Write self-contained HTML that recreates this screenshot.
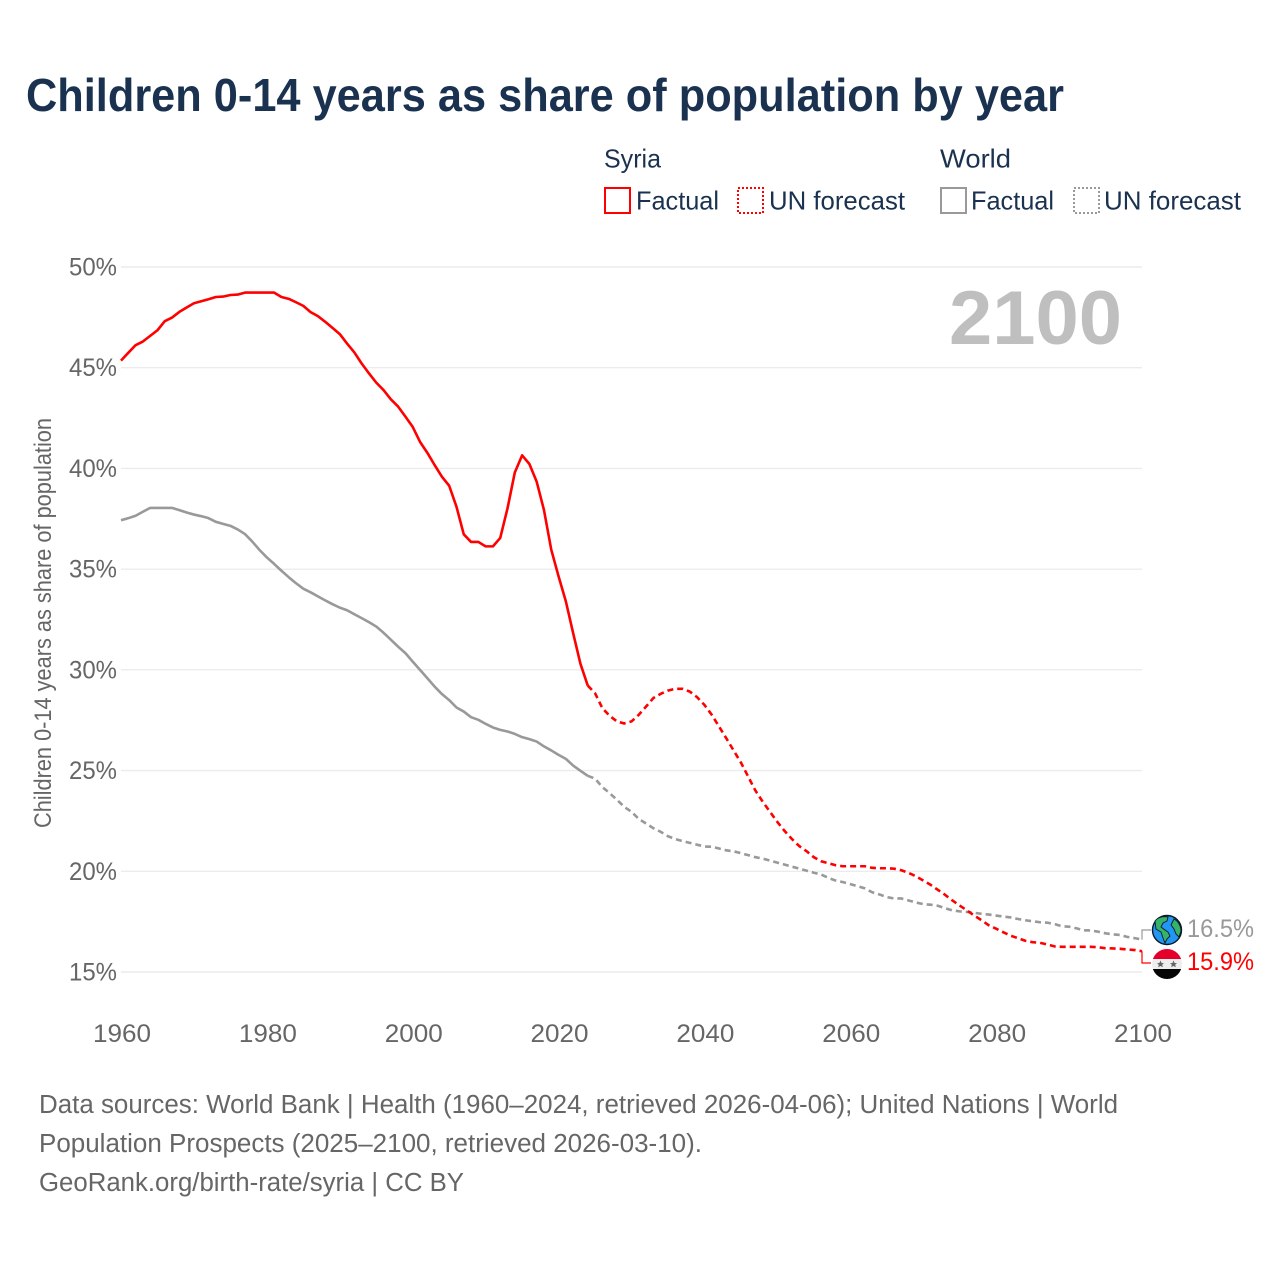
<!DOCTYPE html>
<html lang="en">
<head>
<meta charset="utf-8">
<title>Children 0-14 years as share of population by year</title>
<style>
html,body{margin:0;padding:0;background:#fff;}
svg{display:block;font-family:"Liberation Sans",sans-serif;}
</style>
</head>
<body>
<svg id="chart" xmlns="http://www.w3.org/2000/svg" width="1280" height="1280" viewBox="0 0 1280 1280">
  <rect x="0" y="0" width="1280" height="1280" fill="#fff"/>
  <text x="26" y="111" font-size="46" font-weight="700" fill="#1a3250" textLength="1038" lengthAdjust="spacingAndGlyphs">Children 0-14 years as share of population by year</text>

  <g font-size="26" fill="#1a3250">
    <text x="604" y="167.5" textLength="57" lengthAdjust="spacingAndGlyphs">Syria</text>
    <text x="940" y="167.5" textLength="71" lengthAdjust="spacingAndGlyphs">World</text>
    <g>
      <rect x="605" y="188" width="25" height="25" fill="none" stroke="#ff0000" stroke-width="2"/>
      <text x="636" y="209.5" textLength="83" lengthAdjust="spacingAndGlyphs">Factual</text>
    </g>
    <g>
      <rect x="738" y="188" width="25" height="25" fill="none" stroke="#ff0000" stroke-width="2" stroke-dasharray="2 2"/>
      <text x="769" y="209.5" textLength="136" lengthAdjust="spacingAndGlyphs">UN forecast</text>
    </g>
    <g>
      <rect x="941" y="188" width="25" height="25" fill="none" stroke="#999999" stroke-width="2"/>
      <text x="971" y="209.5" textLength="83" lengthAdjust="spacingAndGlyphs">Factual</text>
    </g>
    <g>
      <rect x="1074" y="188" width="25" height="25" fill="none" stroke="#999999" stroke-width="2" stroke-dasharray="2 2"/>
      <text x="1104" y="209.5" textLength="137" lengthAdjust="spacingAndGlyphs">UN forecast</text>
    </g>
  </g>

  <g id="grid"></g>
  <g id="yLabels"></g>
  <g id="xLabels"></g>

  <text transform="translate(51,623) rotate(-90)" text-anchor="middle" font-size="24" fill="#666666" textLength="410" lengthAdjust="spacingAndGlyphs">Children 0-14 years as share of population</text>
  <text x="949" y="344" font-size="76" font-weight="700" fill="#bfbfbf" textLength="173" lengthAdjust="spacingAndGlyphs">2100</text>

  <g id="series"></g>
  <g id="endLabels"></g>

  <g>
    <circle cx="1167" cy="930" r="14.5" fill="#2196f3" stroke="#0b1a24" stroke-width="1.4"/>
    <path d="M1155 921 C1158 917 1164 916 1168 917 L1167 921 L1163 923 L1161 927 L1165 930 L1168 932 L1170 936 L1167 939 L1165 943 L1163 938 L1161 932 L1156 929 Z" fill="#35b36b" stroke="#0b1a24" stroke-width="0.9"/>
    <path d="M1174 919 C1178 921 1181 926 1181 931 L1179 937 L1176 934 L1174 929 L1171 925 Z" fill="#35b36b" stroke="#0b1a24" stroke-width="0.9"/>
  </g>
  <g>
    <clipPath id="flagClip"><circle cx="1167" cy="964" r="15"/></clipPath>
    <g clip-path="url(#flagClip)">
      <rect x="1152" y="949" width="30" height="10" fill="#e4002b"/>
      <rect x="1152" y="959" width="30" height="10" fill="#eeeeee"/>
      <rect x="1152" y="969" width="30" height="10" fill="#050505"/>
    </g>
    <path d="M1160.5 960.5 L1161.6 963 L1164 963.2 L1162.2 964.8 L1162.8 967.2 L1160.5 966 L1158.2 967.2 L1158.8 964.8 L1157 963.2 L1159.4 963 Z" fill="#666666"/>
    <path d="M1173.5 960.5 L1174.6 963 L1177 963.2 L1175.2 964.8 L1175.8 967.2 L1173.5 966 L1171.2 967.2 L1171.8 964.8 L1170 963.2 L1172.4 963 Z" fill="#666666"/>
  </g>

  <g font-size="25.5" fill="#666666">
    <text x="39" y="1113" textLength="1079" lengthAdjust="spacingAndGlyphs">Data sources: World Bank | Health (1960–2024, retrieved 2026-04-06); United Nations | World</text>
    <text x="39" y="1152" textLength="663" lengthAdjust="spacingAndGlyphs">Population Prospects (2025–2100, retrieved 2026-03-10).</text>
    <text x="39" y="1191" textLength="425" lengthAdjust="spacingAndGlyphs">GeoRank.org/birth-rate/syria | CC BY</text>
  </g>
</svg>

<script>
const yTicks = [15, 20, 25, 30, 35, 40, 45, 50];
const xTicks = [1960, 1980, 2000, 2020, 2040, 2060, 2080, 2100];
const factualStartYear = 1960;
const forecastStartYear = 2024;

const syriaFactual = [
  45.35,45.74,46.12,46.3,46.58,46.86,47.31,47.49,47.77,47.99,
  48.2,48.3,48.4,48.51,48.53,48.61,48.63,48.73,48.73,48.73,
  48.73,48.73,48.51,48.42,48.25,48.07,47.76,47.56,47.28,46.98,
  46.67,46.2,45.76,45.21,44.72,44.26,43.89,43.43,43.07,42.57,
  42.06,41.32,40.78,40.17,39.59,39.14,38.1,36.73,36.35,36.35,
  36.13,36.13,36.55,38.02,39.8,40.65,40.22,39.34,37.93,35.96,
  34.64,33.4,31.82,30.3,29.22
];
const syriaForecast = [
  29.22,28.84,28.1,27.72,27.44,27.34,27.44,27.77,28.18,28.6,
  28.81,28.97,29.06,29.06,28.92,28.64,28.26,27.77,27.19,26.6,
  26.0,25.4,24.7,24.0,23.45,22.95,22.45,22.0,21.6,21.25,
  21.0,20.7,20.5,20.4,20.3,20.25,20.25,20.25,20.25,20.17,
  20.15,20.15,20.13,20.05,19.92,19.75,19.54,19.33,19.08,18.83,
  18.55,18.3,18.06,17.8,17.57,17.32,17.15,16.97,16.8,16.68,
  16.55,16.48,16.45,16.37,16.27,16.25,16.25,16.25,16.25,16.25,
  16.23,16.18,16.17,16.15,16.12,16.09,16.03
];
const worldFactual = [
  37.43,37.53,37.65,37.85,38.04,38.04,38.04,38.04,37.93,37.81,
  37.71,37.63,37.53,37.35,37.25,37.15,36.97,36.74,36.37,35.95,
  35.58,35.26,34.92,34.6,34.3,34.03,33.85,33.65,33.45,33.26,
  33.09,32.96,32.76,32.57,32.37,32.15,31.84,31.5,31.15,30.83,
  30.41,30.0,29.59,29.17,28.8,28.5,28.13,27.93,27.65,27.52,
  27.32,27.14,27.02,26.94,26.82,26.66,26.56,26.44,26.2,26.0,
  25.78,25.58,25.25,24.99,24.74
];
const worldForecast = [
  24.74,24.6,24.18,23.88,23.55,23.2,22.95,22.6,22.37,22.14,
  21.96,21.74,21.6,21.5,21.41,21.32,21.23,21.22,21.13,21.04,
  20.99,20.9,20.8,20.7,20.63,20.53,20.43,20.33,20.23,20.13,
  20.03,19.93,19.84,19.67,19.54,19.46,19.36,19.26,19.15,18.96,
  18.85,18.72,18.65,18.65,18.55,18.45,18.37,18.34,18.29,18.17,
  18.06,18.01,17.98,17.94,17.89,17.85,17.8,17.75,17.71,17.63,
  17.57,17.52,17.47,17.45,17.38,17.27,17.25,17.17,17.07,17.06,
  17.0,16.92,16.87,16.84,16.74,16.68,16.61
];
const endLabels = ["16.5%", "15.9%"];

const SVG_NS = "http://www.w3.org/2000/svg";
function xScale(year) { return 121 + (year - 1960) * (1021 / 140); }
function yScale(value) { return 972 - (value - 15) * (705 / 35); }
function linePath(values, startYear) {
  return values.map(function (v, i) {
    return (i ? "L" : "M") + xScale(startYear + i).toFixed(2) + " " + yScale(v).toFixed(2);
  }).join(" ");
}

const gridGroup = document.getElementById("grid");
const yLabelGroup = document.getElementById("yLabels");
const xLabelGroup = document.getElementById("xLabels");
const seriesGroup = document.getElementById("series");
const endLabelGroup = document.getElementById("endLabels");

yTicks.forEach(function (tick) {
  const line = document.createElementNS(SVG_NS, "line");
  
  
  line.setAttribute("x1", 121);
  line.setAttribute("x2", 1142);
  line.setAttribute("y1", yScale(tick));
  line.setAttribute("y2", yScale(tick));
  line.setAttribute("stroke", "#ececec");
  line.setAttribute("stroke-width", "1.4");
  gridGroup.appendChild(line);

  const label = document.createElementNS(SVG_NS, "text");
  
  
  label.setAttribute("x", 69);
  label.setAttribute("y", yScale(tick) + 8.5);
  label.setAttribute("font-size", "25");
  label.setAttribute("fill", "#666666");
  label.setAttribute("textLength", "48");
  label.setAttribute("lengthAdjust", "spacingAndGlyphs");
  label.textContent = tick + "%";
  yLabelGroup.appendChild(label);
});

xTicks.forEach(function (tick) {
  const label = document.createElementNS(SVG_NS, "text");
  
  
  label.setAttribute("x", xScale(tick) - 28);
  label.setAttribute("y", 1042);
  label.setAttribute("font-size", "25");
  label.setAttribute("fill", "#666666");
  label.setAttribute("textLength", "58");
  label.setAttribute("lengthAdjust", "spacingAndGlyphs");
  label.textContent = String(tick);
  xLabelGroup.appendChild(label);
});

function addSeries(name, values, startYear, color, dashed) {
  const path = document.createElementNS(SVG_NS, "path");
  
  
  path.setAttribute("d", linePath(values, startYear));
  path.setAttribute("fill", "none");
  path.setAttribute("stroke", color);
  path.setAttribute("stroke-width", "2.6");
  path.setAttribute("stroke-linejoin", "round");
  if (dashed) { path.setAttribute("stroke-dasharray", "6 4"); }
  seriesGroup.appendChild(path);
}
addSeries("world-factual-line", worldFactual, factualStartYear, "#999999", false);
addSeries("world-forecast-line", worldForecast, forecastStartYear, "#999999", true);
addSeries("syria-factual-line", syriaFactual, factualStartYear, "#ff0000", false);
addSeries("syria-forecast-line", syriaForecast, forecastStartYear, "#ff0000", true);

const worldEnd = yScale(worldForecast[worldForecast.length - 1]);
const syriaEnd = yScale(syriaForecast[syriaForecast.length - 1]);

const worldConnector = document.createElementNS(SVG_NS, "path");


worldConnector.setAttribute("d", "M1142 " + worldEnd + " V930 H1151");
worldConnector.setAttribute("fill", "none");
worldConnector.setAttribute("stroke", "#999999");
worldConnector.setAttribute("stroke-width", "1.2");
seriesGroup.appendChild(worldConnector);

const syriaConnector = document.createElementNS(SVG_NS, "path");


syriaConnector.setAttribute("d", "M1142 " + syriaEnd + " V963 H1151");
syriaConnector.setAttribute("fill", "none");
syriaConnector.setAttribute("stroke", "#ff0000");
syriaConnector.setAttribute("stroke-width", "1.2");
seriesGroup.appendChild(syriaConnector);

const worldEndLabel = document.createElementNS(SVG_NS, "text");


worldEndLabel.setAttribute("x", 1187);
worldEndLabel.setAttribute("y", 937);
worldEndLabel.setAttribute("font-size", "25");
worldEndLabel.setAttribute("fill", "#999999");
worldEndLabel.setAttribute("textLength", "67");
worldEndLabel.setAttribute("lengthAdjust", "spacingAndGlyphs");
worldEndLabel.textContent = endLabels[0];
endLabelGroup.appendChild(worldEndLabel);

const syriaEndLabel = document.createElementNS(SVG_NS, "text");


syriaEndLabel.setAttribute("x", 1187);
syriaEndLabel.setAttribute("y", 970);
syriaEndLabel.setAttribute("font-size", "25");
syriaEndLabel.setAttribute("fill", "#ff0000");
syriaEndLabel.setAttribute("textLength", "67");
syriaEndLabel.setAttribute("lengthAdjust", "spacingAndGlyphs");
syriaEndLabel.textContent = endLabels[1];
endLabelGroup.appendChild(syriaEndLabel);
</script>
</body>
</html>
